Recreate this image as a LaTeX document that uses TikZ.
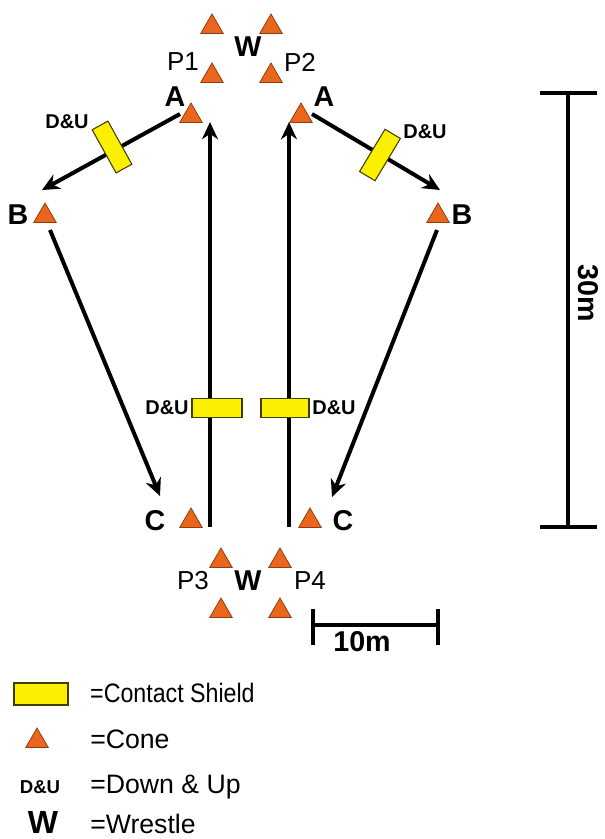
\documentclass[tikz,border=0pt]{standalone}
\usepackage{fontspec}
\setmainfont{Liberation Sans}
\usetikzlibrary{shapes.geometric,arrows.meta}
\definecolor{coneorange}{RGB}{234,102,28}
\definecolor{coneedge}{RGB}{150,60,15}
\definecolor{shieldyellow}{RGB}{250,240,0}
\definecolor{shieldedge}{RGB}{70,60,0}
\begin{document}
\begin{tikzpicture}[x=0.75pt,y=-0.75pt,
  cone/.style={regular polygon, regular polygon sides=3, fill=coneorange, draw=coneedge, line width=0.6pt, inner sep=0pt, minimum size=19.5pt},
  shield/.style={rectangle, fill=shieldyellow, draw=shieldedge, line width=0.8pt, inner sep=0pt},
  runarrow/.style={line width=3pt, -{Stealth[length=13pt,width=12pt]}},
  scalebar/.style={line width=2.7pt},
  plabel/.style={font=\fontsize{19.5}{22}\selectfont, inner sep=0pt},
  blabel/.style={font=\fontsize{21.5}{24}\selectfont\bfseries, inner sep=0pt},
  dulabel/.style={font=\fontsize{15}{18}\selectfont\bfseries, inner sep=0pt},
  legtext/.style={font=\fontsize{20}{24}\selectfont, inner sep=0pt, anchor=west}]
\useasboundingbox (0,0) rectangle (604,839);

% cones
\node[cone] (t1) at (212,27) {};
\node[cone] (t2) at (271,27) {};
\node[cone] (m1) at (212,76) {};
\node[cone] (m2) at (271,76) {};
\node[cone] (a1) at (191,116) {};
\node[cone] (a2) at (301,116) {};
\node[cone] (b1) at (45,216) {};
\node[cone] (b2) at (438,216) {};
\node[cone] (c1) at (191,521) {};
\node[cone] (c2) at (310,521) {};
\node[cone] (p3a) at (221,561) {};
\node[cone] (p4a) at (280,561) {};
\node[cone] (p3b) at (221,611) {};
\node[cone] (p4b) at (280,611) {};

% top labels
\node[blabel] (wtop) at (248,47) {W};
\node[plabel] (p1) at (183,62) {P1};
\node[plabel] (p2) at (300,62) {P2};
\node[blabel] (la1) at (175,97) {A};
\node[blabel] (la2) at (324,97) {A};
\node[blabel] (lb1) at (18,215) {B};
\node[blabel] (lb2) at (462,215) {B};
\node[blabel] (lc1) at (155,521) {C};
\node[blabel] (lc2) at (343,521) {C};

% bottom labels
\node[plabel] (p3) at (193,581) {P3};
\node[blabel] (wbot) at (248,581) {W};
\node[plabel] (p4) at (310,581) {P4};

% run coordinates
\coordinate (abls) at (180,114);
\coordinate (able) at (42,190);
\coordinate (abrs) at (312,114);
\coordinate (abre) at (440,190);
\coordinate (bcls) at (50,230);
\coordinate (bcle) at (160,496);
\coordinate (bcrs) at (437,230);
\coordinate (bcre) at (332,497);
\coordinate (vls) at (210,527);
\coordinate (vle) at (210,122);
\coordinate (vrs) at (289,527);
\coordinate (vre) at (289,122);

% arrows
\draw[runarrow] (abls) -- (able);
\draw[runarrow] (abrs) -- (abre);
\draw[runarrow] (bcls) -- (bcle);
\draw[runarrow] (bcrs) -- (bcre);
\draw[runarrow] (vls) -- (vle);
\draw[runarrow] (vrs) -- (vre);

% shields
\node[shield, minimum width=13.5pt, minimum height=37pt, rotate=29] (s1) at (112,147) {};
\node[shield, minimum width=13.5pt, minimum height=37pt, rotate=-31] (s2) at (380,155) {};
\node[shield, minimum width=37.5pt, minimum height=14pt] (s3) at (217,408) {};
\node[shield, minimum width=36pt, minimum height=14pt] (s4) at (285,408) {};

% D&U labels
\node[dulabel] (du1) at (67,122) {D\&U};
\node[dulabel] (du2) at (425,132) {D\&U};
\node[dulabel] (du3) at (167,408) {D\&U};
\node[dulabel] (du4) at (334,408) {D\&U};

% 30m scale
\coordinate (v30t) at (568,93);
\coordinate (v30b) at (568,527);
\coordinate (v30tl) at (540,93);
\coordinate (v30tr) at (597,93);
\coordinate (v30bl) at (540,527);
\coordinate (v30br) at (597,527);
\draw[scalebar] (v30t) -- (v30b);
\draw[scalebar] (v30tl) -- (v30tr);
\draw[scalebar] (v30bl) -- (v30br);
\node[blabel, rotate=-90] (l30) at (588,293) {30m};

% 10m scale
\coordinate (h10l) at (313,625);
\coordinate (h10r) at (438,625);
\coordinate (h10lt) at (313,609);
\coordinate (h10lb) at (313,645);
\coordinate (h10rt) at (438,609);
\coordinate (h10rb) at (438,645);
\draw[scalebar] (h10l) -- (h10r);
\draw[scalebar] (h10lt) -- (h10lb);
\draw[scalebar] (h10rt) -- (h10rb);
\node[blabel] (l10) at (362,642) {10m};

% legend
\node[shield, minimum width=40.5pt, minimum height=16.5pt] (legshield) at (41,694) {};
\node[legtext, xscale=0.87] (legshieldt) at (90,693) {=Contact Shield};
\node[cone] (legcone) at (37,741) {};
\node[legtext] (legconet) at (90,739) {=Cone};
\node[font=\fontsize{14}{16}\selectfont\bfseries, inner sep=0pt] (legdu) at (40,787) {D\&U};
\node[legtext] (legdut) at (90,787) {=Down \& Up};
\node[font=\fontsize{24}{28}\selectfont\bfseries, inner sep=0pt] (legw) at (43,822) {W};
\node[legtext] (legwt) at (90,824) {=Wrestle};
\end{tikzpicture}
\end{document}
